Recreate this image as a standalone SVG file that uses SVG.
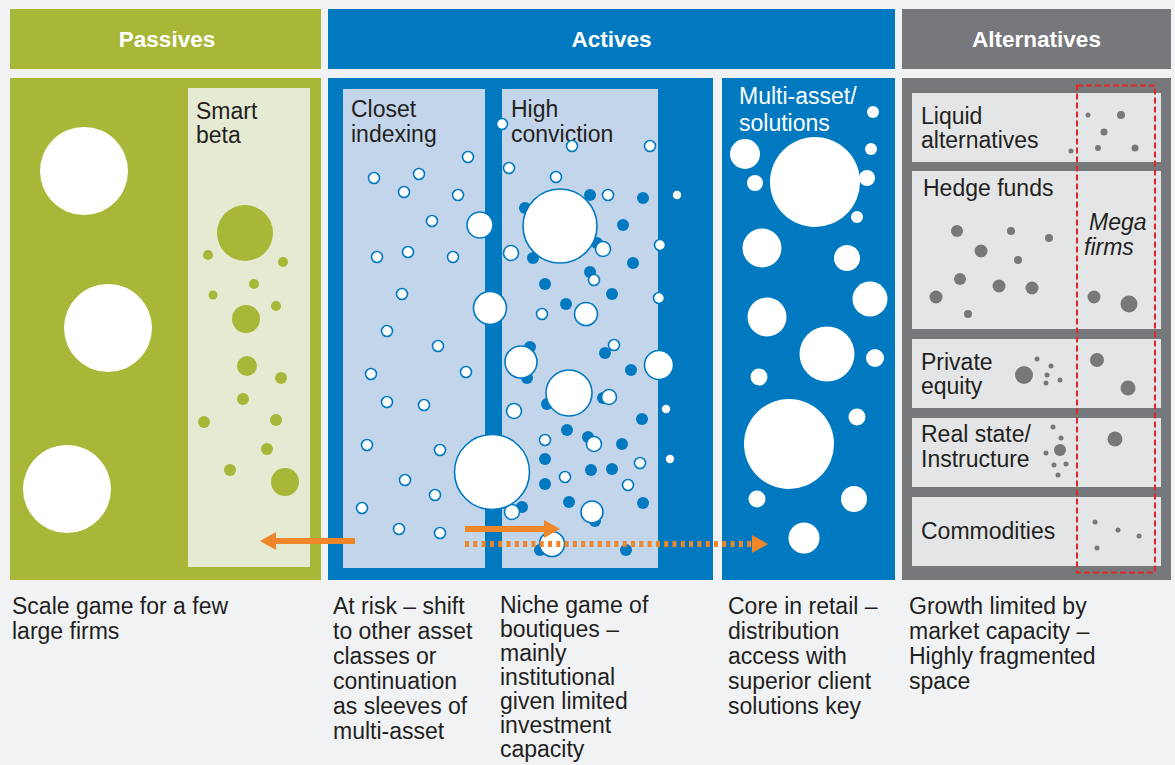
<svg xmlns="http://www.w3.org/2000/svg" width="1175" height="765" viewBox="0 0 1175 765">
<defs>
<style>
text{font-family:"Liberation Sans",Arial,sans-serif;}
.hd{font-size:22.5px;font-weight:bold;fill:#ffffff;text-anchor:middle;}
.lb{font-size:23px;fill:#231f20;}
.lbw{font-size:23px;fill:#ffffff;}
.it{font-size:23px;fill:#231f20;font-style:italic;}
.ft{font-size:23px;fill:#231f20;}
.gw{fill:#ffffff;}
.gd{fill:#a8b737;}
.bw{fill:#ffffff;stroke:#0079c1;stroke-width:1.6;}
.bd{fill:#0079c1;}
.gy{fill:#77787b;}
.arr{stroke:#f0862a;stroke-width:6;fill:none;}
</style>
<marker id="ah" viewBox="0 -9 16 18" markerWidth="16" markerHeight="18" refX="0" refY="0" orient="auto" markerUnits="userSpaceOnUse">
<path d="M0,-9 L16,0 L0,9 Z" fill="#f0862a"/>
</marker>
</defs>
<rect x="0" y="0" width="1175" height="765" fill="#f1f2f4"/>

<g id="passives">
<rect x="10" y="9" width="311" height="60" fill="#a8b737"/>
<text class="hd" x="167" y="47">Passives</text>
<rect x="10" y="78" width="311" height="502" fill="#a8b737"/>
<circle class="gw" cx="84" cy="171" r="44"/>
<circle class="gw" cx="108" cy="328" r="44"/>
<circle class="gw" cx="67" cy="489" r="44"/>
</g>

<g id="smart-beta">
<rect x="188" y="88" width="122" height="479" fill="#e5ebd3"/>
<text class="lb" x="196" y="119">Smart</text>
<text class="lb" x="196" y="143">beta</text>
<circle class="gd" cx="245" cy="233" r="28"/>
<circle class="gd" cx="208" cy="255" r="5"/>
<circle class="gd" cx="283" cy="262" r="5"/>
<circle class="gd" cx="254" cy="284" r="5"/>
<circle class="gd" cx="213" cy="295" r="4.5"/>
<circle class="gd" cx="276" cy="306" r="5"/>
<circle class="gd" cx="246" cy="319" r="14"/>
<circle class="gd" cx="247" cy="366" r="10"/>
<circle class="gd" cx="281" cy="378" r="6"/>
<circle class="gd" cx="243" cy="399" r="6"/>
<circle class="gd" cx="204" cy="422" r="6"/>
<circle class="gd" cx="276" cy="420" r="6"/>
<circle class="gd" cx="267" cy="449" r="6"/>
<circle class="gd" cx="230" cy="470" r="6"/>
<circle class="gd" cx="285" cy="482" r="14"/>
</g>

<g id="actives">
<rect x="328" y="9" width="567" height="60" fill="#0079c1"/>
<text class="hd" x="611.5" y="47">Actives</text>
<rect x="328" y="78" width="385" height="502" fill="#0079c1"/>
</g>

<g id="closet-indexing">
<rect x="343" y="89" width="142" height="479" fill="#c3d5eb"/>
<text class="lb" x="351" y="117">Closet</text>
<text class="lb" x="351" y="142">indexing</text>
<circle class="bw" cx="468" cy="157" r="5.5"/>
<circle class="bw" cx="374" cy="178" r="5.5"/>
<circle class="bw" cx="419" cy="174" r="5.5"/>
<circle class="bw" cx="404" cy="192" r="5.5"/>
<circle class="bw" cx="458" cy="195" r="5.5"/>
<circle class="bw" cx="432" cy="221" r="5.5"/>
<circle class="bw" cx="377" cy="257" r="5.5"/>
<circle class="bw" cx="408" cy="252" r="5.5"/>
<circle class="bw" cx="453" cy="257" r="5.5"/>
<circle class="bw" cx="402" cy="294" r="5.5"/>
<circle class="bw" cx="387" cy="331" r="5.5"/>
<circle class="bw" cx="438" cy="346" r="5.5"/>
<circle class="bw" cx="371" cy="374" r="5.5"/>
<circle class="bw" cx="466" cy="372" r="5.5"/>
<circle class="bw" cx="387" cy="402" r="5.5"/>
<circle class="bw" cx="424" cy="405" r="5.5"/>
<circle class="bw" cx="367" cy="445" r="5.5"/>
<circle class="bw" cx="440" cy="450" r="5.5"/>
<circle class="bw" cx="405" cy="480" r="5.5"/>
<circle class="bw" cx="435" cy="495" r="5.5"/>
<circle class="bw" cx="362" cy="508" r="5.5"/>
<circle class="bw" cx="399" cy="529" r="5.5"/>
<circle class="bw" cx="440" cy="533" r="5.5"/>
</g>

<g id="high-conviction">
<rect x="502" y="89" width="156" height="479" fill="#c3d5eb"/>
<text class="lb" x="511" y="117">High</text>
<text class="lb" x="511" y="142">conviction</text>
<circle class="bd" cx="590" cy="195" r="6"/>
<circle class="bd" cx="643" cy="198" r="6"/>
<circle class="bd" cx="525" cy="208" r="6"/>
<circle class="bd" cx="623" cy="225" r="6"/>
<circle class="bd" cx="597" cy="243" r="6"/>
<circle class="bd" cx="533" cy="258" r="6"/>
<circle class="bd" cx="633" cy="263" r="6"/>
<circle class="bd" cx="590" cy="272" r="6"/>
<circle class="bd" cx="545" cy="284" r="6"/>
<circle class="bd" cx="612" cy="294" r="6"/>
<circle class="bd" cx="566" cy="304" r="6"/>
<circle class="bd" cx="530" cy="347" r="6"/>
<circle class="bd" cx="605" cy="353" r="6"/>
<circle class="bd" cx="527" cy="378" r="6"/>
<circle class="bd" cx="547" cy="404" r="6"/>
<circle class="bd" cx="603" cy="398" r="6"/>
<circle class="bd" cx="631" cy="370" r="6"/>
<circle class="bd" cx="642" cy="419" r="6"/>
<circle class="bd" cx="567" cy="430" r="6"/>
<circle class="bd" cx="588" cy="437" r="6"/>
<circle class="bd" cx="622" cy="444" r="6"/>
<circle class="bd" cx="545" cy="459" r="6"/>
<circle class="bd" cx="591" cy="470" r="6"/>
<circle class="bd" cx="612" cy="469" r="6"/>
<circle class="bd" cx="545" cy="484" r="6"/>
<circle class="bd" cx="569" cy="502" r="6"/>
<circle class="bd" cx="643" cy="503" r="6"/>
<circle class="bd" cx="595" cy="521" r="6"/>
<circle class="bd" cx="522" cy="507" r="6"/>
<circle class="bd" cx="540" cy="550" r="6"/>
<circle class="bd" cx="626" cy="550" r="6"/>
<circle class="bw" cx="502" cy="124" r="5.5"/>
<circle class="bw" cx="572" cy="146" r="5.5"/>
<circle class="bw" cx="650" cy="146" r="5.5"/>
<circle class="bw" cx="509" cy="168" r="5.5"/>
<circle class="bw" cx="556" cy="177" r="5.5"/>
<circle class="bw" cx="608" cy="195" r="5.5"/>
<circle class="bw" cx="677" cy="195" r="5"/>
<circle class="bw" cx="560" cy="226" r="37"/>
<circle class="bw" cx="660" cy="245" r="5.5"/>
<circle class="bw" cx="511" cy="253" r="7.5"/>
<circle class="bw" cx="603" cy="249" r="7.5"/>
<circle class="bw" cx="594" cy="280" r="5.5"/>
<circle class="bw" cx="659" cy="298" r="5.5"/>
<circle class="bw" cx="542" cy="314" r="5.5"/>
<circle class="bw" cx="586" cy="314" r="11.5"/>
<circle class="bw" cx="614" cy="345" r="5.5"/>
<circle class="bw" cx="521" cy="362" r="16"/>
<circle class="bw" cx="569" cy="393" r="23"/>
<circle class="bw" cx="609" cy="397" r="7.5"/>
<circle class="bw" cx="659" cy="365" r="14.5"/>
<circle class="bw" cx="514" cy="411" r="7.5"/>
<circle class="bw" cx="666" cy="409" r="5"/>
<circle class="bw" cx="594" cy="444" r="7.5"/>
<circle class="bw" cx="545" cy="440" r="5.5"/>
<circle class="bw" cx="670" cy="459" r="5"/>
<circle class="bw" cx="640" cy="463" r="5.5"/>
<circle class="bw" cx="565" cy="477" r="5.5"/>
<circle class="bw" cx="628" cy="485" r="5.5"/>
<circle class="bw" cx="592" cy="512" r="11"/>
<circle class="bw" cx="512" cy="512" r="7.5"/>
<circle class="bw" cx="552" cy="544" r="12.5"/>
<circle class="bw" cx="492" cy="472" r="37.5"/>
<circle class="bw" cx="490" cy="308" r="16.5"/>
<circle class="bw" cx="480" cy="225" r="13"/>
</g>

<g id="multi-asset">
<rect x="722" y="78" width="173" height="502" fill="#0079c1"/>
<text class="lbw" x="739" y="104">Multi-asset/</text>
<text class="lbw" x="739" y="131">solutions</text>
<circle class="gw" cx="873" cy="112" r="6"/>
<circle class="gw" cx="745" cy="154" r="15"/>
<circle class="gw" cx="871" cy="149" r="6"/>
<circle class="gw" cx="815" cy="182" r="45"/>
<circle class="gw" cx="755" cy="183" r="8"/>
<circle class="gw" cx="867" cy="178" r="8"/>
<circle class="gw" cx="857" cy="217" r="6"/>
<circle class="gw" cx="762" cy="248" r="19.5"/>
<circle class="gw" cx="847" cy="258" r="13"/>
<circle class="gw" cx="870" cy="299" r="17.5"/>
<circle class="gw" cx="767" cy="317" r="19.5"/>
<circle class="gw" cx="827" cy="354" r="27.5"/>
<circle class="gw" cx="875" cy="358" r="9"/>
<circle class="gw" cx="759" cy="377" r="8.5"/>
<circle class="gw" cx="789" cy="444" r="45"/>
<circle class="gw" cx="857" cy="417" r="8.5"/>
<circle class="gw" cx="757" cy="499" r="8.5"/>
<circle class="gw" cx="854" cy="499" r="13"/>
<circle class="gw" cx="804" cy="538" r="15.5"/>
</g>

<g id="alternatives">
<rect x="902" y="9" width="269" height="60" fill="#77787b"/>
<text class="hd" x="1036.5" y="47">Alternatives</text>
<rect x="902" y="78" width="269" height="502" fill="#77787b"/>
</g>

<g id="liquid-alternatives">
<rect x="912" y="93" width="249" height="69" fill="#e4e5e6"/>
<text class="lb" x="921" y="124">Liquid</text>
<text class="lb" x="921" y="148">alternatives</text>
<circle class="gy" cx="1088" cy="115" r="2.5"/>
<circle class="gy" cx="1121" cy="115" r="4"/>
<circle class="gy" cx="1104" cy="132" r="3.5"/>
<circle class="gy" cx="1071" cy="151" r="2.5"/>
<circle class="gy" cx="1098" cy="148" r="3"/>
<circle class="gy" cx="1135" cy="148" r="3.5"/>
</g>

<g id="hedge-funds">
<rect x="912" y="171" width="249" height="158" fill="#e4e5e6"/>
<text class="lb" x="923" y="196">Hedge funds</text>
<circle class="gy" cx="957" cy="231" r="6"/>
<circle class="gy" cx="1011" cy="231" r="4"/>
<circle class="gy" cx="1049" cy="238" r="4"/>
<circle class="gy" cx="981" cy="251" r="6.5"/>
<circle class="gy" cx="1018" cy="260" r="4"/>
<circle class="gy" cx="960" cy="279" r="6"/>
<circle class="gy" cx="999" cy="286" r="6.5"/>
<circle class="gy" cx="1032" cy="288" r="6.5"/>
<circle class="gy" cx="936" cy="297" r="6.5"/>
<circle class="gy" cx="968" cy="314" r="4"/>
<circle class="gy" cx="1094" cy="297" r="6.5"/>
<circle class="gy" cx="1129" cy="304" r="8.5"/>
</g>

<g id="private-equity">
<rect x="912" y="339" width="249" height="69" fill="#e4e5e6"/>
<text class="lb" x="921" y="370">Private</text>
<text class="lb" x="921" y="394">equity</text>
<circle class="gy" cx="1024" cy="375" r="9"/>
<circle class="gy" cx="1037" cy="359" r="2.5"/>
<circle class="gy" cx="1051" cy="366" r="2.5"/>
<circle class="gy" cx="1047" cy="375" r="2.5"/>
<circle class="gy" cx="1046" cy="383" r="2.5"/>
<circle class="gy" cx="1060" cy="380" r="2.5"/>
<circle class="gy" cx="1097" cy="360" r="7"/>
<circle class="gy" cx="1128" cy="388" r="7.5"/>
</g>

<g id="real-estate">
<rect x="912" y="418" width="249" height="69" fill="#e4e5e6"/>
<text class="lb" x="921" y="442">Real state/</text>
<text class="lb" x="921" y="467">Instructure</text>
<circle class="gy" cx="1053" cy="427" r="2.5"/>
<circle class="gy" cx="1061" cy="438" r="2.5"/>
<circle class="gy" cx="1060" cy="450" r="6"/>
<circle class="gy" cx="1046" cy="453" r="2.5"/>
<circle class="gy" cx="1054" cy="465" r="2.5"/>
<circle class="gy" cx="1066" cy="464" r="2.5"/>
<circle class="gy" cx="1058" cy="475" r="2.5"/>
<circle class="gy" cx="1115" cy="439" r="7.5"/>
</g>

<g id="commodities">
<rect x="912" y="497" width="249" height="69" fill="#e4e5e6"/>
<text class="lb" x="921" y="539">Commodities</text>
<circle class="gy" cx="1095" cy="522" r="2.5"/>
<circle class="gy" cx="1118" cy="530" r="2.5"/>
<circle class="gy" cx="1139" cy="536" r="2.5"/>
<circle class="gy" cx="1097" cy="548" r="2.5"/>
</g>

<g id="mega-firms">
<rect x="1077" y="85.5" width="78" height="487" fill="none" stroke="#e52629" stroke-width="2" stroke-dasharray="6 3"/>
<text class="it" x="1089" y="230">Mega</text>
<text class="it" x="1084" y="255">firms</text>
</g>

<g id="connectors">
<path class="arr" d="M355,541 L276,541" marker-end="url(#ah)"/>
<path class="arr" d="M465,529 L544,529" marker-end="url(#ah)"/>
<path class="arr" d="M465,544 L752,544" stroke-dasharray="4 4.3" marker-end="url(#ah)"/>
</g>

<g id="footnotes">
<text class="ft" x="12" y="614">Scale game for a few</text>
<text class="ft" x="12" y="639">large firms</text>
<text class="ft" x="333" y="614">At risk – shift</text>
<text class="ft" x="333" y="639">to other asset</text>
<text class="ft" x="333" y="664">classes or</text>
<text class="ft" x="333" y="689">continuation</text>
<text class="ft" x="333" y="714">as sleeves of</text>
<text class="ft" x="333" y="739">multi-asset</text>
<text class="ft" x="500" y="613">Niche game of</text>
<text class="ft" x="500" y="637">boutiques –</text>
<text class="ft" x="500" y="661">mainly</text>
<text class="ft" x="500" y="685">institutional</text>
<text class="ft" x="500" y="709">given limited</text>
<text class="ft" x="500" y="733">investment</text>
<text class="ft" x="500" y="757">capacity</text>
<text class="ft" x="728" y="614">Core in retail –</text>
<text class="ft" x="728" y="639">distribution</text>
<text class="ft" x="728" y="664">access with</text>
<text class="ft" x="728" y="689">superior client</text>
<text class="ft" x="728" y="714">solutions key</text>
<text class="ft" x="909" y="614">Growth limited by</text>
<text class="ft" x="909" y="639">market capacity –</text>
<text class="ft" x="909" y="664">Highly fragmented</text>
<text class="ft" x="909" y="689">space</text>
</g>
</svg>
